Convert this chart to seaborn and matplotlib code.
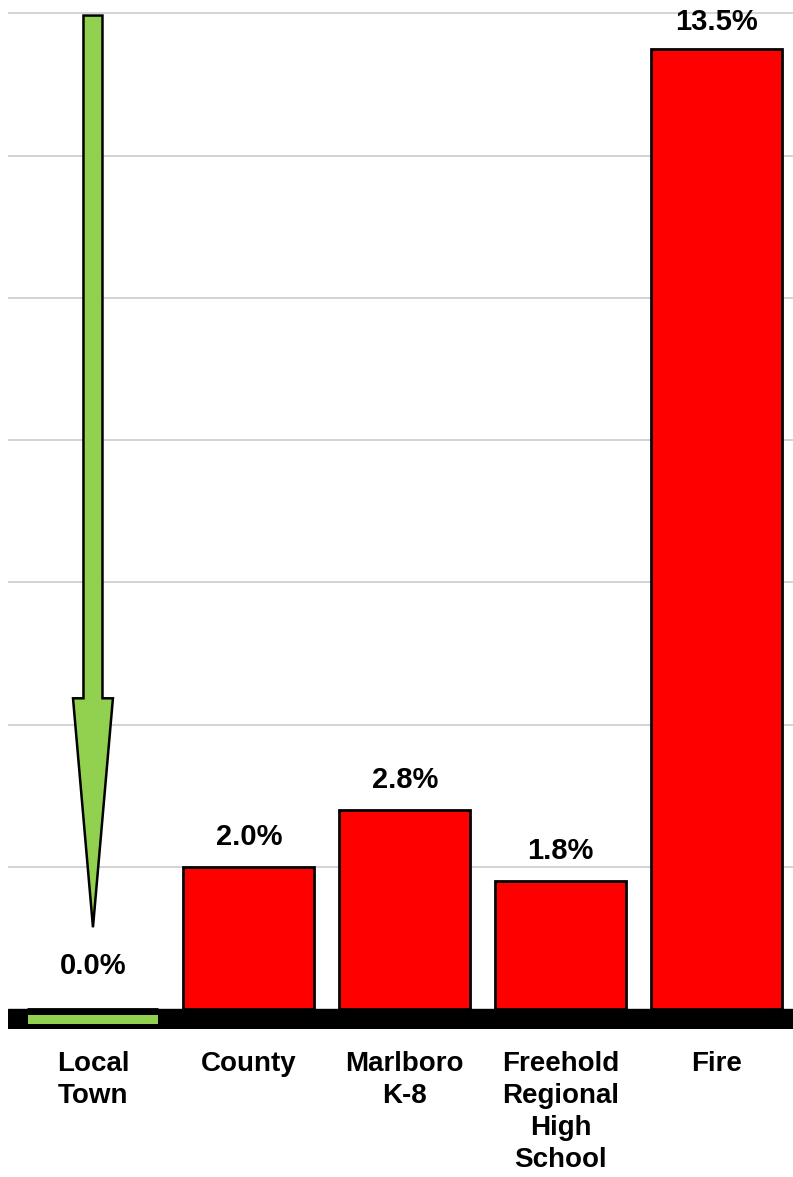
import numpy as np
import pandas as pd
import seaborn as sns
import matplotlib.pyplot as plt

categories = ["Local\nTown", "County", "Marlboro\nK-8", "Freehold\nRegional\nHigh\nSchool", "Fire"]
values = [0.0, 2.0, 2.8, 1.8, 13.5]
bar_colors = ["#92D050", "#FF0000", "#FF0000", "#FF0000", "#FF0000"]
value_labels = ["0.0%", "2.0%", "2.8%", "1.8%", "13.5%"]
arrow_tip = 1.15

sns.set_theme(style="white")
plt.rcParams['font.family'] = ['Liberation Sans', 'DejaVu Sans']
plt.rcParams['text.color'] = 'black'
plt.rcParams['xtick.color'] = 'black'

fig = plt.figure(figsize=(7.93, 11.77), dpi=100)
ax = fig.add_axes([8/793, 1 - 1029/1177, 1 - 8/793, (1029 - 12)/1177])

data = pd.DataFrame({"cat": categories, "val": values})
sns.barplot(data=data, x="cat", y="val", hue="cat", palette=bar_colors, saturation=1,
            width=0.84, edgecolor="black", linewidth=2, legend=False, ax=ax, zorder=3)

ax.set_ylim(-0.28, 14.02)
ax.set_xlim(-0.545, 4.49)
ax.set_yticks(np.arange(2, 15, 2))
ax.yaxis.grid(True, color="#d0d0d0", linewidth=1.3, zorder=0)
ax.set_yticklabels([])
ax.tick_params(axis="y", length=0)
ax.tick_params(axis="x", length=0, pad=16, colors="black")
for lab in ax.get_xticklabels():
    lab.set_fontsize(20)
    lab.set_fontweight("bold")
    lab.set_linespacing(1.3)
ax.set_xlabel("")
ax.set_ylabel("")
for s in ax.spines.values():
    s.set_visible(False)

# thick black base band below zero
ax.axhspan(-0.28, 0, color="black", zorder=4)
# green marker for the zero bar inside the band
ax.bar(0, 0.125, bottom=-0.21, width=0.83, color=bar_colors[0], linewidth=0, zorder=5)

# down arrow over the local town
ax.arrow(0, 13.97, 0, arrow_tip - 13.97, width=0.122, head_width=0.256,
         head_length=3.22, length_includes_head=True, fc=bar_colors[0],
         ec="black", lw=1.8, zorder=5)

for i, (v, t) in enumerate(zip(values, value_labels)):
    off = 30 if v > 0 else 43
    if v > 13:
        off = 27
    ax.annotate(t, xy=(i, v), xytext=(0, off * 0.72), textcoords="offset points",
                ha="center", va="center", fontsize=21, fontweight="bold",
                color="black", annotation_clip=False, zorder=6)

fig.savefig("out.png", dpi=100)
